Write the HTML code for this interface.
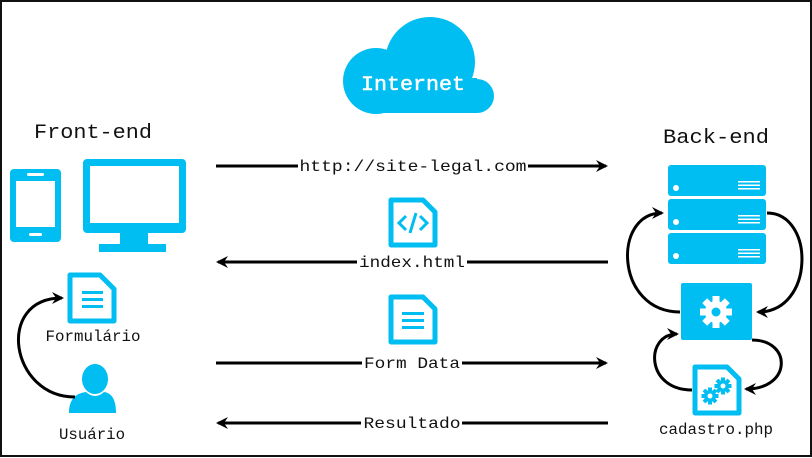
<!DOCTYPE html>
<html><head><meta charset="utf-8"><style>
html,body{margin:0;padding:0;background:#fff}
svg{display:block}
text{font-family:"Liberation Mono",monospace;fill:#111}
</style></head><body>
<svg width="812" height="458" viewBox="0 0 812 458" xmlns="http://www.w3.org/2000/svg">
<defs>
<marker id="ah" markerWidth="12" markerHeight="12" refX="10" refY="6" orient="auto" markerUnits="userSpaceOnUse">
<path d="M0,0 L12,6 L0,12 L4,6 Z" fill="#000"/>
</marker>
<g id="gear">
<circle r="11" fill="#fff"/>
<g fill="#fff">
<rect x="-3.5" y="-16" width="7" height="32"/>
<rect x="-3.5" y="-16" width="7" height="32" transform="rotate(45)"/>
<rect x="-3.5" y="-16" width="7" height="32" transform="rotate(90)"/>
<rect x="-3.5" y="-16" width="7" height="32" transform="rotate(135)"/>
</g>
<circle r="4.5" fill="#00bef2"/>
</g>
<g id="sgear">
<circle r="6" fill="#00bef2"/>
<g fill="#00bef2">
<rect x="-2" y="-8.5" width="4" height="17"/>
<rect x="-2" y="-8.5" width="4" height="17" transform="rotate(45)"/>
<rect x="-2" y="-8.5" width="4" height="17" transform="rotate(90)"/>
<rect x="-2" y="-8.5" width="4" height="17" transform="rotate(135)"/>
</g>
<circle r="2.5" fill="#fff"/>
</g>
</defs>
<rect x="1" y="1" width="810" height="455" fill="#fff" stroke="#111" stroke-width="2"/>

<!-- cloud -->
<g fill="#00bef2">
<circle cx="430" cy="62" r="45"/>
<circle cx="376" cy="81" r="33"/>
<circle cx="477" cy="96" r="17"/>
<rect x="376" y="78" width="101" height="35"/>
</g>
<text x="413" y="90" font-size="20" text-anchor="middle" style="fill:#fff;stroke:#fff;stroke-width:0.5" textLength="104" lengthAdjust="spacingAndGlyphs">Internet</text>

<text x="34" y="138" font-size="20" textLength="118" lengthAdjust="spacingAndGlyphs">Front-end</text>
<text x="663" y="143" font-size="20" textLength="106" lengthAdjust="spacingAndGlyphs">Back-end</text>

<!-- phone -->
<rect x="10" y="169" width="51" height="73" rx="4" fill="#00bef2"/>
<rect x="16" y="181" width="39" height="46" fill="#fff"/>
<rect x="27" y="173" width="17" height="3" rx="1.5" fill="#fff"/>
<rect x="29" y="233" width="13" height="3" rx="1.5" fill="#fff"/>
<!-- monitor -->
<rect x="83" y="159" width="103" height="74" rx="4" fill="#00bef2"/>
<rect x="90" y="166" width="89" height="57" fill="#fff"/>
<rect x="120" y="232" width="28" height="12" fill="#00bef2"/>
<rect x="99" y="244" width="67" height="8" fill="#00bef2"/>

<!-- form doc -->
<g>
<path d="M70,275 h30 l14,14 v32 h-44 z" fill="#fff" stroke="#00bef2" stroke-width="5" stroke-linejoin="round"/>
<rect x="82" y="291" width="21" height="3" fill="#00bef2"/><rect x="82" y="298" width="21" height="3" fill="#00bef2"/><rect x="82" y="305" width="21" height="3" fill="#00bef2"/>
</g>
<text x="93" y="341" font-size="16" text-anchor="middle" textLength="95" lengthAdjust="spacingAndGlyphs">Formulário</text>
<!-- user -->
<ellipse cx="95" cy="379" rx="13" ry="15" fill="#00bef2"/>
<path d="M69,413 C69,397 78,393 86,392 Q95,400 104,392 C112,393 116,400 116,413 Z" fill="#00bef2"/>
<text x="92" y="439" font-size="16" text-anchor="middle" textLength="66" lengthAdjust="spacingAndGlyphs">Usuário</text>
<path d="M75,397 C10,397 -5,298 62,298" fill="none" stroke="#000" stroke-width="3" marker-end="url(#ah)"/>

<!-- arrows -->
<g stroke="#000" stroke-width="3" fill="none">
<line x1="216" y1="166" x2="606" y2="166" marker-end="url(#ah)"/>
<line x1="608" y1="262" x2="218" y2="262" marker-end="url(#ah)"/>
<line x1="216" y1="363" x2="606" y2="363" marker-end="url(#ah)"/>
<line x1="608" y1="423" x2="218" y2="423" marker-end="url(#ah)"/>
</g>
<g font-size="16">
<rect x="298" y="156" width="230" height="20" fill="#fff"/>
<text x="413" y="171" text-anchor="middle" textLength="227" lengthAdjust="spacingAndGlyphs">http://site-legal.com</text>
<rect x="357" y="252" width="110" height="20" fill="#fff"/>
<text x="412" y="267" text-anchor="middle" textLength="106" lengthAdjust="spacingAndGlyphs">index.html</text>
<rect x="362" y="353" width="100" height="20" fill="#fff"/>
<text x="412" y="368" text-anchor="middle" textLength="96" lengthAdjust="spacingAndGlyphs">Form Data</text>
<rect x="361" y="413" width="101" height="20" fill="#fff"/>
<text x="412" y="428" text-anchor="middle" textLength="97" lengthAdjust="spacingAndGlyphs">Resultado</text>
</g>

<!-- html doc -->
<path d="M391,200 h32 l12,12 v33 h-44 z" fill="#fff" stroke="#00bef2" stroke-width="5" stroke-linejoin="round"/>
<path d="M406,216 l-7,7 l7,7 M420,216 l7,7 l-7,7 M416,213 l-6,20" fill="none" stroke="#00bef2" stroke-width="3"/>
<!-- form data doc -->
<path d="M391,297 h32 l12,12 v33 h-44 z" fill="#fff" stroke="#00bef2" stroke-width="5" stroke-linejoin="round"/>
<rect x="402" y="312" width="22" height="3" fill="#00bef2"/><rect x="402" y="319" width="22" height="3" fill="#00bef2"/><rect x="402" y="326" width="22" height="3" fill="#00bef2"/>

<!-- servers -->
<g fill="#00bef2">
<rect x="668" y="165" width="98" height="31" rx="3"/>
<rect x="668" y="199" width="98" height="31" rx="3"/>
<rect x="668" y="233" width="98" height="31" rx="3"/>
</g>
<g fill="#fff">
<circle cx="676" cy="188" r="3"/><circle cx="676" cy="222" r="3"/><circle cx="676" cy="256" r="3"/>
<rect x="738" y="181" width="22" height="1.5"/><rect x="738" y="184.5" width="22" height="1.5"/><rect x="738" y="188" width="22" height="1.5"/>
<rect x="738" y="215" width="22" height="1.5"/><rect x="738" y="218.5" width="22" height="1.5"/><rect x="738" y="222" width="22" height="1.5"/>
<rect x="738" y="249" width="22" height="1.5"/><rect x="738" y="252.5" width="22" height="1.5"/><rect x="738" y="256" width="22" height="1.5"/>
</g>
<!-- gear box -->
<rect x="681" y="283" width="71" height="57" rx="2" fill="#00bef2"/>
<use href="#gear" x="716" y="312"/>
<!-- php doc -->
<path d="M695,367 h32 l12,12 v34 h-44 z" fill="#fff" stroke="#00bef2" stroke-width="5" stroke-linejoin="round"/>
<use href="#sgear" x="710" y="396"/>
<use href="#sgear" x="723" y="386"/>
<text x="716" y="434" font-size="16" text-anchor="middle" textLength="114" lengthAdjust="spacingAndGlyphs">cadastro.php</text>

<!-- backend curves -->
<g stroke="#000" stroke-width="3" fill="none">
<path d="M680,312 C615,312 612,213 662,213" marker-end="url(#ah)"/>
<path d="M767,213 C815,213 815,312 758,312" marker-end="url(#ah)"/>
<path d="M692,390 C645,390 645,334 677,334" marker-end="url(#ah)"/>
<path d="M752,340 C792,340 792,389 746,389" marker-end="url(#ah)"/>
</g>
</svg>
</body></html>
